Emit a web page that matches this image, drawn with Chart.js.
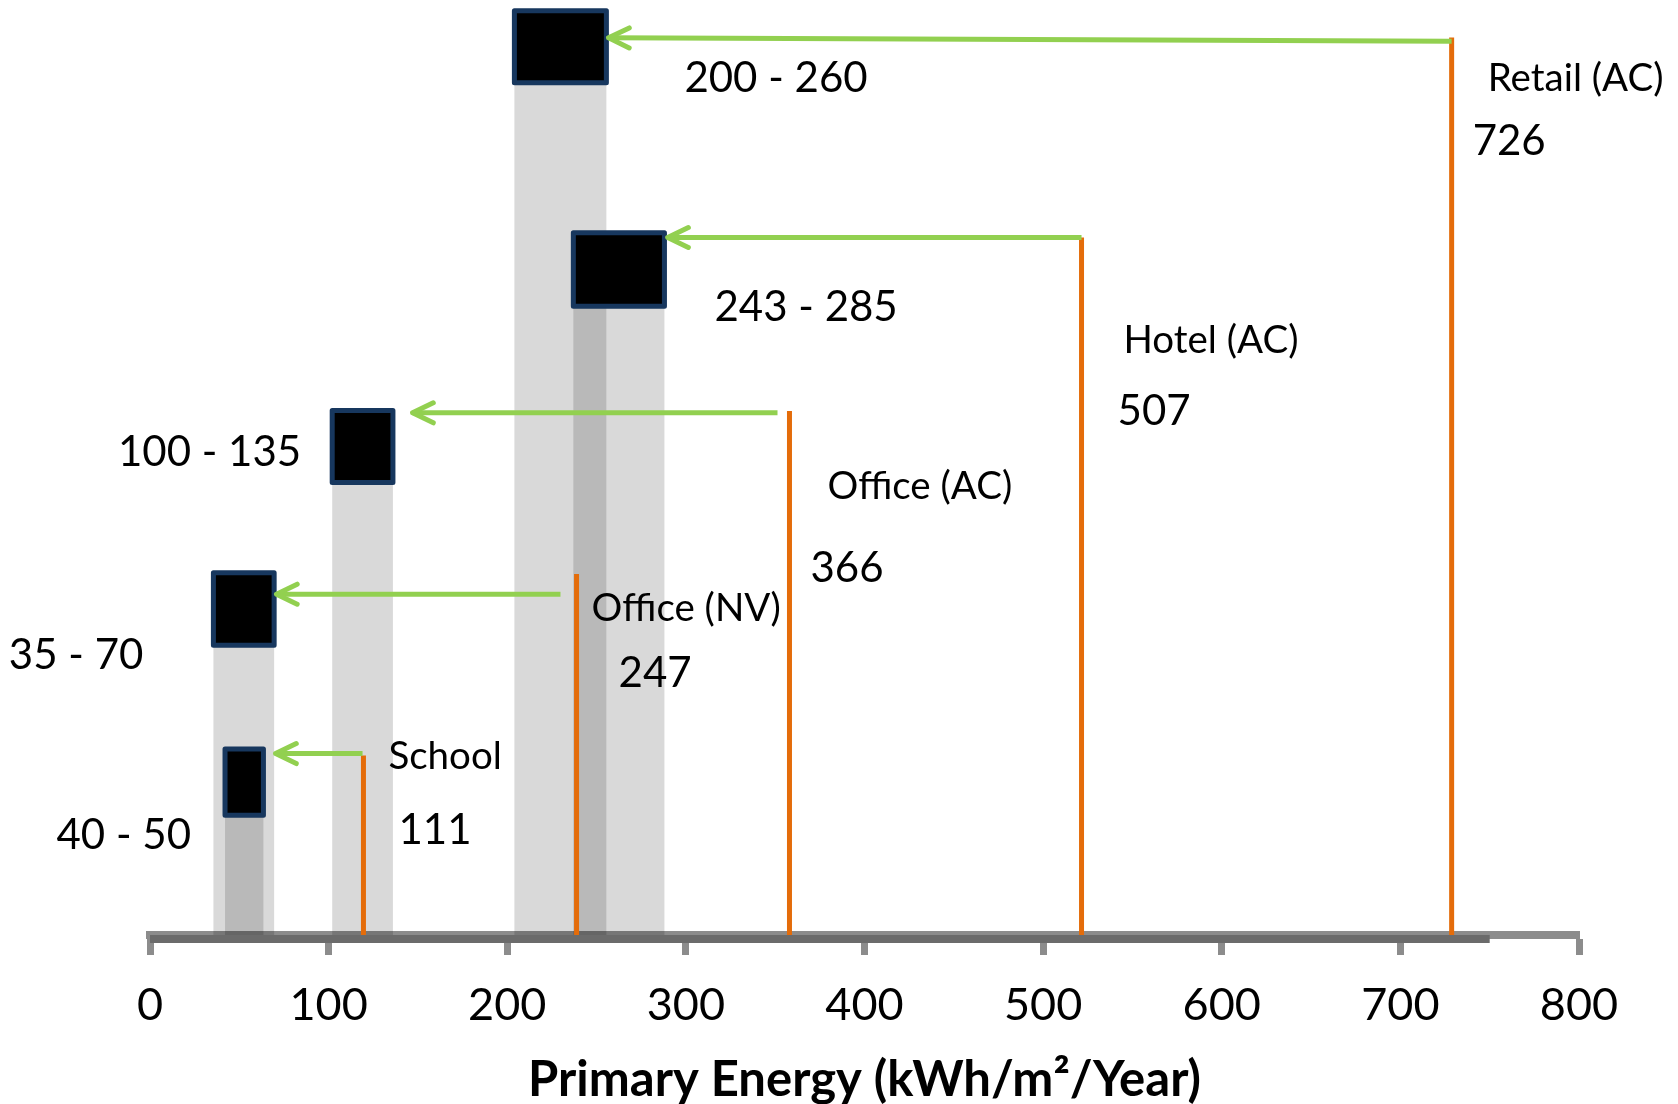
<!DOCTYPE html>
<html>
<head>
<meta charset="utf-8">
<script src="https://cdn.jsdelivr.net/npm/chart.js@4.4.0/dist/chart.umd.min.js"></script>
<style>
  html, body { margin: 0; padding: 0; background: #ffffff; }
  #wrap { width: 1678px; height: 1104px; }
</style>
</head>
<body>
<div id="wrap"><canvas id="energyChart"></canvas></div>
<script>
// ## PRIMARY ENERGY BENCHMARK CHART ##

// benchmark ranges (grey columns), same order as the building types below
const rangeLabels = ["40 - 50", "35 - 70", "100 - 135", "243 - 285", "200 - 260"];
const rangeFrom = [42, 35.5, 102, 237, 204];
const rangeTo = [63.5, 69.5, 136, 288, 255.5];
// black marker on top of each column (hidden height scale, 0-100)
const markerBottom = [12.8, 31.0, 48.4, 67.25, 91.15];
const markerTop = [19.9, 38.75, 56.1, 75.1, 98.85];

// building types (orange lines)
const buildingNames = ["School", "Office (NV)", "Office (AC)", "Hotel (AC)", "Retail (AC)"];
const buildingValues = ["111", "247", "366", "507", "726"];
const buildingX = [119.5, 238.8, 358, 521.5, 728.7];
const buildingTop = [19.2, 38.6, 56.05, 74.6, 96.0];

// green arrows from each building line back to its range
const arrowFromX = [119, 229.8, 351.3, 521.5, 728.7];
const arrowToX = [70.3, 70.8, 147, 289.8, 256.7];
const arrowFromY = [19.4, 36.45, 55.85, 74.6, 95.6];
const arrowToY = [19.4, 36.45, 55.85, 74.6, 95.95];

const xTicks = [0, 100, 200, 300, 400, 500, 600, 700, 800];
const axisDarkTo = 750;

// label placement, pixels from the marker / line top
const rangeLabelSpot = [
  { side: "left", dx: -34, dy: 100 },
  { side: "left", dx: -70, dy: 96 },
  { side: "left", dx: -31, dy: 56 },
  { side: "right", dx: 50, dy: 88 },
  { side: "right", dx: 78, dy: 81 },
];
const nameSpot = [[25, 14], [15, 47], [38, 88], [42, 116], [36, 54]];
const valueSpot = [[35, 89], [42, 113], [21, 171], [36, 188], [21, 118]];

const GREY = "rgba(0, 0, 0, 0.15)";
const NAVY = "#17375e";
const ORANGE = "#e46c0a";
const GREEN = "#92d050";
const FONT = "Lato";

const datasets = [];

rangeFrom.forEach((x0, i) => {
  const x1 = rangeTo[i];
  datasets.push({
    role: "range",
    data: [
      { x: x0, y: 0 },
      { x: x0, y: markerBottom[i] },
      { x: x1, y: markerBottom[i] },
      { x: x1, y: 0 },
      { x: x0, y: 0 },
    ],
    backgroundColor: GREY,
    borderColor: "rgba(0,0,0,0)",
    borderWidth: 0,
    fill: "shape",
    order: 40,
  });
});

rangeFrom.forEach((x0, i) => {
  const x1 = rangeTo[i];
  datasets.push({
    role: "marker",
    data: [
      { x: x0, y: markerBottom[i] },
      { x: x0, y: markerTop[i] },
      { x: x1, y: markerTop[i] },
      { x: x1, y: markerBottom[i] },
      { x: x0, y: markerBottom[i] },
    ],
    backgroundColor: "#000000",
    borderColor: NAVY,
    borderWidth: 5,
    borderJoinStyle: "round",
    borderCapStyle: "round",
    fill: "shape",
    order: 30,
  });
});

buildingX.forEach((x, i) => {
  datasets.push({
    role: "building",
    data: [
      { x: x, y: 0 },
      { x: x, y: buildingTop[i] },
    ],
    borderColor: ORANGE,
    borderWidth: 5,
    fill: false,
    order: 20,
  });
});

arrowFromX.forEach((x, i) => {
  datasets.push({
    role: "arrow",
    data: [
      { x: x, y: arrowFromY[i] },
      { x: arrowToX[i], y: arrowToY[i] },
    ],
    borderColor: GREEN,
    borderWidth: 5,
    fill: false,
    order: 10,
  });
});

const annotatePlugin = {
  id: "annotate",
  afterDatasetDraw(chart, args) {
    const ds = chart.data.datasets[args.index];
    if (ds.role !== "arrow") return;
    const pts = args.meta.data;
    const tail = pts[0];
    const tip = pts[pts.length - 1];
    const ang = Math.atan2(tip.y - tail.y, tip.x - tail.x);
    const len = 23;
    const spread = 0.45;
    const ctx = chart.ctx;
    ctx.save();
    ctx.strokeStyle = ds.borderColor;
    ctx.lineWidth = ds.borderWidth;
    ctx.lineCap = "round";
    ctx.lineJoin = "round";
    ctx.beginPath();
    ctx.moveTo(tip.x - len * Math.cos(ang - spread), tip.y - len * Math.sin(ang - spread));
    ctx.lineTo(tip.x, tip.y);
    ctx.lineTo(tip.x - len * Math.cos(ang + spread), tip.y - len * Math.sin(ang + spread));
    ctx.stroke();
    ctx.restore();
  },
  afterDraw(chart) {
    const ctx = chart.ctx;
    const xs = chart.scales.x;
    const ys = chart.scales.y;
    const area = chart.chartArea;

    // darker stretch of the axis line
    ctx.save();
    ctx.strokeStyle = "#6b6b6b";
    ctx.lineWidth = 8;
    ctx.beginPath();
    ctx.moveTo(xs.getPixelForValue(0), area.bottom + 4);
    ctx.lineTo(xs.getPixelForValue(axisDarkTo), area.bottom + 4);
    ctx.stroke();

    ctx.fillStyle = "#000000";
    ctx.textBaseline = "alphabetic";

    // range labels
    ctx.font = `42px ${FONT}`;
    rangeLabels.forEach((txt, i) => {
      const spot = rangeLabelSpot[i];
      const top = ys.getPixelForValue(markerTop[i]);
      if (spot.side === "left") {
        ctx.textAlign = "right";
        ctx.fillText(txt, xs.getPixelForValue(rangeFrom[i]) + spot.dx, top + spot.dy);
      } else {
        ctx.textAlign = "left";
        ctx.fillText(txt, xs.getPixelForValue(rangeTo[i]) + spot.dx, top + spot.dy);
      }
    });

    // building names and values
    ctx.textAlign = "left";
    buildingNames.forEach((name, i) => {
      const px = xs.getPixelForValue(buildingX[i]);
      const py = ys.getPixelForValue(buildingTop[i]);
      ctx.font = `38.5px ${FONT}`;
      ctx.fillText(name, px + nameSpot[i][0], py + nameSpot[i][1]);
      ctx.font = `42px ${FONT}`;
      ctx.fillText(buildingValues[i], px + valueSpot[i][0], py + valueSpot[i][1]);
    });
    ctx.restore();
  },
};

const ctx = document.getElementById("energyChart").getContext("2d");

window.energyChart = new Chart(ctx, {
  type: "line",
  data: { datasets: datasets },
  options: {
    responsive: true,
    maintainAspectRatio: false,
    animation: false,
    events: [],
    layout: {
      padding: { left: 150, right: 99, top: 0, bottom: 0 },
    },
    elements: {
      point: { radius: 0, hoverRadius: 0 },
      line: { tension: 0 },
    },
    plugins: {
      legend: { display: false },
      tooltip: { enabled: false },
    },
    scales: {
      x: {
        type: "linear",
        min: 0,
        max: 800,
        z: 1,
        afterBuildTicks: (scale) => {
          scale.ticks = xTicks.map((v) => ({ value: v }));
        },
        ticks: {
          color: "#000000",
          padding: 23,
          maxRotation: 0,
          autoSkip: false,
          font: { family: FONT, size: 45 },
        },
        grid: {
          drawOnChartArea: false,
          drawTicks: true,
          tickLength: 20,
          tickWidth: 7,
          tickColor: "#8c8c8c",
        },
        border: {
          display: true,
          color: "#8c8c8c",
          width: 8,
        },
        title: {
          display: true,
          text: "Primary Energy (kWh/m²/Year)",
          color: "#000000",
          font: { family: FONT, size: 49, weight: "bold", lineHeight: 1 },
          padding: { top: 1, bottom: -1 },
        },
      },
      y: {
        display: false,
        min: 0,
        max: 100,
      },
    },
  },
  plugins: [annotatePlugin],
});
</script>
</body>
</html>
